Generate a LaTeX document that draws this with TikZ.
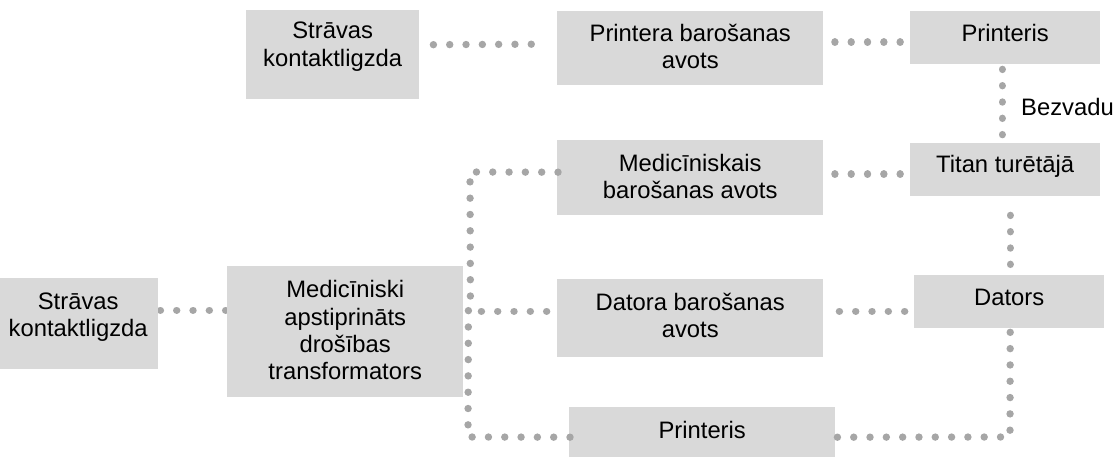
\documentclass[tikz,border=0pt]{standalone}
\usepackage{fontspec}
\usetikzlibrary{backgrounds}
\setmainfont{Liberation Sans}
\definecolor{boxgray}{HTML}{D9D9D9}
\definecolor{dotgray}{HTML}{A6A6A6}
\tikzset{
  gbox/.style={fill=boxgray,draw=none,inner sep=0pt,anchor=north west},
  txt/.style={font=\fontsize{23.8}{27.4}\selectfont,align=center,text=black,inner sep=0pt},
  dots/.style={draw=dotgray,line width=7.4pt,line cap=round,dash pattern=on 0.01pt off 16.3pt},
}
\newcommand{\bx}[7]{% name x y w h text-shift text
  \node[gbox,minimum width=#4pt,minimum height=#5pt,
        label={[txt,yshift=#6pt]center:{#7}}] (#1) at (#2,#3) {};}
\begin{document}
\begin{tikzpicture}[x=1pt,y=-1pt]
\useasboundingbox (0,0) rectangle (1115,457);
\bx{socketA}{246}{10}{173}{89}{8}{Strāvas\\kontaktligzda}
\bx{psuP}{557}{11}{266}{74}{1.5}{Printera barošanas\\avots}
\bx{printA}{910}{11}{190}{53}{5}{Printeris}
\bx{psuM}{557}{140}{266}{75}{1}{Medicīniskais\\barošanas avots}
\bx{titan}{910}{143}{190}{53}{3}{Titan turētājā}
\bx{psuD}{557}{279}{266}{78}{3}{Datora barošanas\\avots}
\bx{pc}{914}{275}{190}{53}{4.5}{Dators}
\bx{printB}{569}{407}{266}{50}{2}{Printeris}
\bx{socketB}{-2}{278}{160}{91}{6.5}{Strāvas\\kontaktligzda}
\bx{trafo}{227}{266}{236}{131}{1.5}{Medicīniski\\apstiprināts\\drošības\\transformators}
\node[txt,anchor=west] (wl) at (1021,107) {Bezvadu};
\draw[dots] ([shift={(14,-10)}]socketA.east) -- ([shift={(-25,-4)}]psuP.west);
\draw[dots] ([shift={(11.5,-6)}]psuP.east) -- ([shift={(-9.5,4.5)}]printA.west);
\draw[dots] ([shift={(-3,5)}]printA.south) -- ([shift={(-3,-8)}]titan.north);
\draw[dots] ([shift={(11.5,-3.5)}]psuM.east) -- ([shift={(-9.5,4.5)}]titan.west);
\draw[dots] ([shift={(1,-5.5)}]psuM.west) -- (470,172) -- ([shift={(7,-34)}]trafo.east);
\draw[dots] ([shift={(18,-20.5)}]trafo.east) -- ([shift={(-8.5,-7)}]psuD.west);
\draw[dots] ([shift={(16,-7)}]psuD.east) -- ([shift={(-8,9.5)}]pc.west);
\draw[dots] ([shift={(1,5)}]printB.west) -- (468,437) -- ([shift={(5,-22.5)}]trafo.east);
\draw[dots] ([shift={(5,19)}]titan.south) -- ([shift={(1,-9.5)}]pc.north);
\draw[dots] ([shift={(2,5)}]printB.east) -- (1010,437) -- ([shift={(1,3)}]pc.south);
\begin{pgfonlayer}{background}
\draw[dots] ([shift={(2,-13.5)}]socketB.east) -- ([shift={(-1,-21.5)}]trafo.west);
\end{pgfonlayer}
\end{tikzpicture}
\end{document}
